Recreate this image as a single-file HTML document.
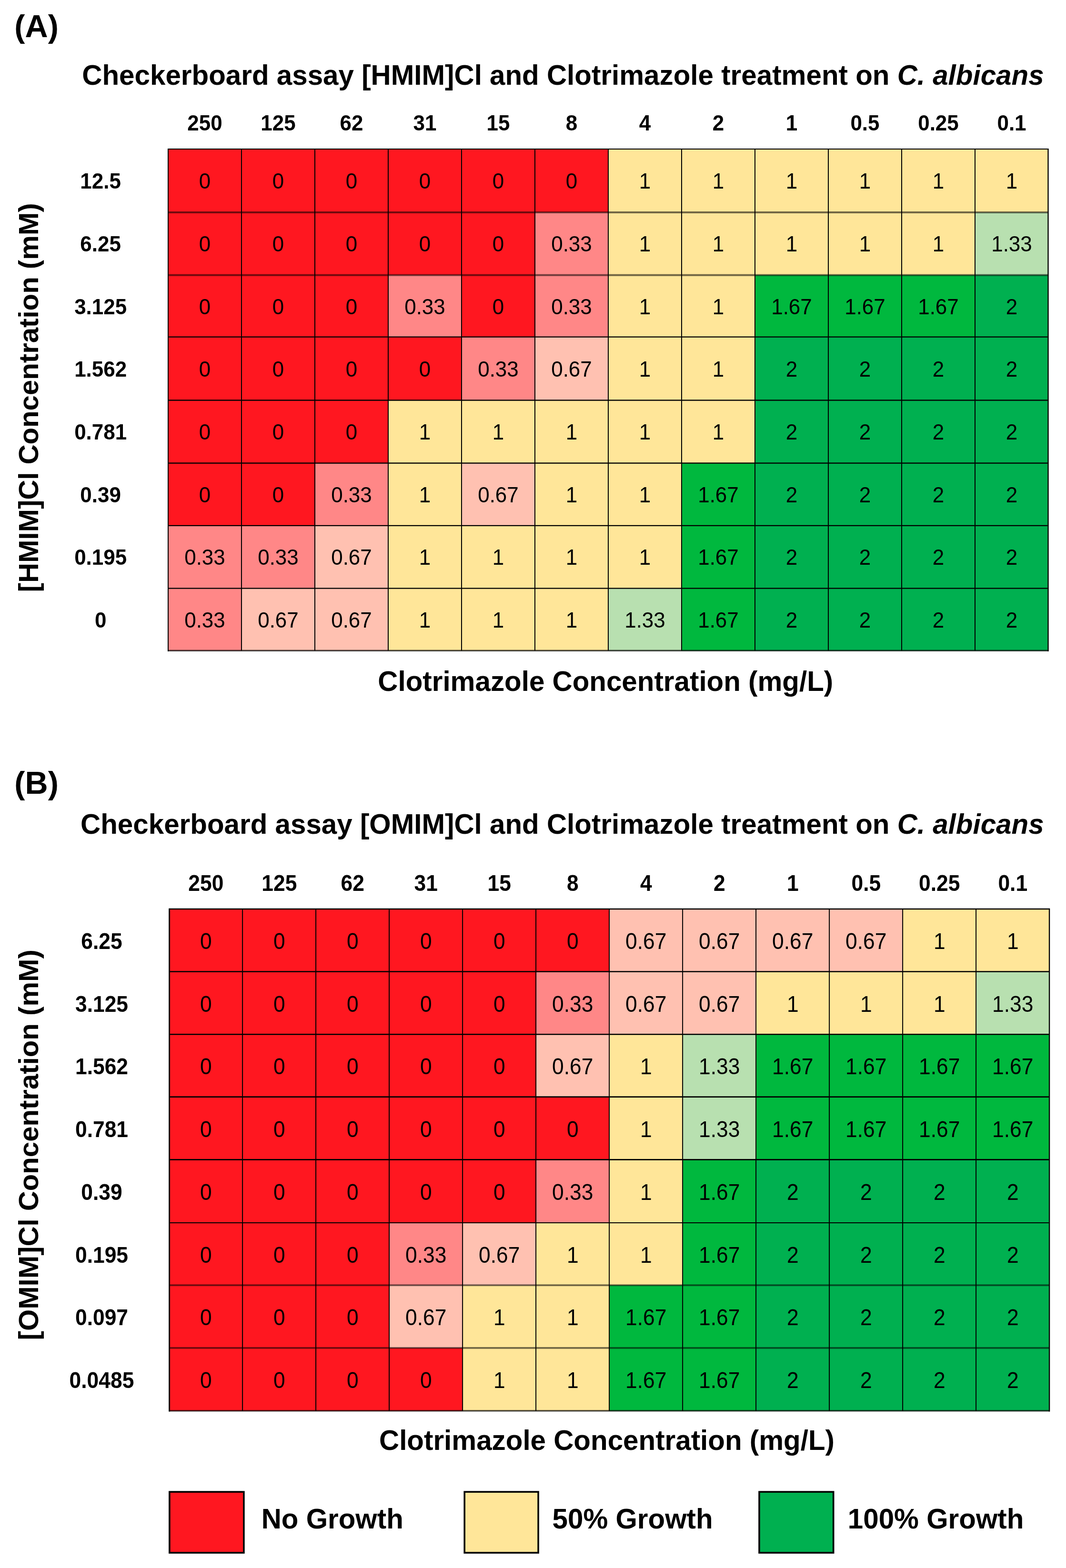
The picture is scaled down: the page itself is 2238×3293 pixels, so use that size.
<!DOCTYPE html>
<html lang="en">
<head>
<meta charset="utf-8">
<title>Checkerboard assay – ionic liquids and Clotrimazole on C. albicans</title>
<style>
html,body{margin:0;padding:0;background:#fff;}
body{width:2238px;height:3293px;position:relative;}
svg{display:block;position:absolute;left:0;top:0;}
text{font-family:"Liberation Sans", sans-serif;fill:#000;}
.p{font-size:66.67px;font-weight:bold;}
.t{font-size:58.33px;font-weight:bold;}
.h{font-size:44.0px;font-weight:bold;}
.v{font-size:44.0px;font-weight:normal;}
.h,.v{transform-box:fill-box;transform-origin:50% 81%;transform:scale(1,1.045);}
#grid-B .h,#grid-B .v{font-size:44.4px;transform:scale(1,1.07);}
.y{font-size:58.15px;font-weight:bold;}
.i{font-style:italic;}
</style>
</head>
<body>
<svg width="2238" height="3293" viewBox="0 0 2238 3293" role="img" aria-label="Checkerboard assays of [HMIM]Cl and [OMIM]Cl with Clotrimazole on C. albicans">
<rect width="2238" height="3293" fill="#fff"/>
<text class="p" x="30.3" y="78" text-anchor="start">(A)</text>
<text class="t" x="2191.6" y="177.8" text-anchor="end">Checkerboard assay [HMIM]Cl and Clotrimazole treatment on <tspan class="i">C. albicans</tspan></text>
<g class="grid" id="grid-A">
<g class="cells">
<rect x="353" y="313" width="154.4" height="133.4" fill="#ff1720"/>
<rect x="507" y="313" width="154.4" height="133.4" fill="#ff1720"/>
<rect x="661" y="313" width="154.4" height="133.4" fill="#ff1720"/>
<rect x="815" y="313" width="154.4" height="133.4" fill="#ff1720"/>
<rect x="969" y="313" width="154.4" height="133.4" fill="#ff1720"/>
<rect x="1123" y="313" width="154.4" height="133.4" fill="#ff1720"/>
<rect x="1277" y="313" width="154.4" height="133.4" fill="#ffe699"/>
<rect x="1431" y="313" width="154.4" height="133.4" fill="#ffe699"/>
<rect x="1585" y="313" width="154.4" height="133.4" fill="#ffe699"/>
<rect x="1739" y="313" width="154.4" height="133.4" fill="#ffe699"/>
<rect x="1893" y="313" width="154.4" height="133.4" fill="#ffe699"/>
<rect x="2047" y="313" width="153.9" height="133.4" fill="#ffe699"/>
<rect x="353" y="446" width="154.4" height="132.1" fill="#ff1720"/>
<rect x="507" y="446" width="154.4" height="132.1" fill="#ff1720"/>
<rect x="661" y="446" width="154.4" height="132.1" fill="#ff1720"/>
<rect x="815" y="446" width="154.4" height="132.1" fill="#ff1720"/>
<rect x="969" y="446" width="154.4" height="132.1" fill="#ff1720"/>
<rect x="1123" y="446" width="154.4" height="132.1" fill="#ff8787"/>
<rect x="1277" y="446" width="154.4" height="132.1" fill="#ffe699"/>
<rect x="1431" y="446" width="154.4" height="132.1" fill="#ffe699"/>
<rect x="1585" y="446" width="154.4" height="132.1" fill="#ffe699"/>
<rect x="1739" y="446" width="154.4" height="132.1" fill="#ffe699"/>
<rect x="1893" y="446" width="154.4" height="132.1" fill="#ffe699"/>
<rect x="2047" y="446" width="153.9" height="132.1" fill="#b8e0b0"/>
<rect x="353" y="577.7" width="154.4" height="130.3" fill="#ff1720"/>
<rect x="507" y="577.7" width="154.4" height="130.3" fill="#ff1720"/>
<rect x="661" y="577.7" width="154.4" height="130.3" fill="#ff1720"/>
<rect x="815" y="577.7" width="154.4" height="130.3" fill="#ff8787"/>
<rect x="969" y="577.7" width="154.4" height="130.3" fill="#ff1720"/>
<rect x="1123" y="577.7" width="154.4" height="130.3" fill="#ff8787"/>
<rect x="1277" y="577.7" width="154.4" height="130.3" fill="#ffe699"/>
<rect x="1431" y="577.7" width="154.4" height="130.3" fill="#ffe699"/>
<rect x="1585" y="577.7" width="154.4" height="130.3" fill="#00b83e"/>
<rect x="1739" y="577.7" width="154.4" height="130.3" fill="#00b83e"/>
<rect x="1893" y="577.7" width="154.4" height="130.3" fill="#00b83e"/>
<rect x="2047" y="577.7" width="153.9" height="130.3" fill="#00b050"/>
<rect x="353" y="707.6" width="154.4" height="133.4" fill="#ff1720"/>
<rect x="507" y="707.6" width="154.4" height="133.4" fill="#ff1720"/>
<rect x="661" y="707.6" width="154.4" height="133.4" fill="#ff1720"/>
<rect x="815" y="707.6" width="154.4" height="133.4" fill="#ff1720"/>
<rect x="969" y="707.6" width="154.4" height="133.4" fill="#ff8787"/>
<rect x="1123" y="707.6" width="154.4" height="133.4" fill="#ffc1b1"/>
<rect x="1277" y="707.6" width="154.4" height="133.4" fill="#ffe699"/>
<rect x="1431" y="707.6" width="154.4" height="133.4" fill="#ffe699"/>
<rect x="1585" y="707.6" width="154.4" height="133.4" fill="#00b050"/>
<rect x="1739" y="707.6" width="154.4" height="133.4" fill="#00b050"/>
<rect x="1893" y="707.6" width="154.4" height="133.4" fill="#00b050"/>
<rect x="2047" y="707.6" width="153.9" height="133.4" fill="#00b050"/>
<rect x="353" y="840.6" width="154.4" height="132.4" fill="#ff1720"/>
<rect x="507" y="840.6" width="154.4" height="132.4" fill="#ff1720"/>
<rect x="661" y="840.6" width="154.4" height="132.4" fill="#ff1720"/>
<rect x="815" y="840.6" width="154.4" height="132.4" fill="#ffe699"/>
<rect x="969" y="840.6" width="154.4" height="132.4" fill="#ffe699"/>
<rect x="1123" y="840.6" width="154.4" height="132.4" fill="#ffe699"/>
<rect x="1277" y="840.6" width="154.4" height="132.4" fill="#ffe699"/>
<rect x="1431" y="840.6" width="154.4" height="132.4" fill="#ffe699"/>
<rect x="1585" y="840.6" width="154.4" height="132.4" fill="#00b050"/>
<rect x="1739" y="840.6" width="154.4" height="132.4" fill="#00b050"/>
<rect x="1893" y="840.6" width="154.4" height="132.4" fill="#00b050"/>
<rect x="2047" y="840.6" width="153.9" height="132.4" fill="#00b050"/>
<rect x="353" y="972.6" width="154.4" height="131.6" fill="#ff1720"/>
<rect x="507" y="972.6" width="154.4" height="131.6" fill="#ff1720"/>
<rect x="661" y="972.6" width="154.4" height="131.6" fill="#ff8787"/>
<rect x="815" y="972.6" width="154.4" height="131.6" fill="#ffe699"/>
<rect x="969" y="972.6" width="154.4" height="131.6" fill="#ffc1b1"/>
<rect x="1123" y="972.6" width="154.4" height="131.6" fill="#ffe699"/>
<rect x="1277" y="972.6" width="154.4" height="131.6" fill="#ffe699"/>
<rect x="1431" y="972.6" width="154.4" height="131.6" fill="#00b83e"/>
<rect x="1585" y="972.6" width="154.4" height="131.6" fill="#00b050"/>
<rect x="1739" y="972.6" width="154.4" height="131.6" fill="#00b050"/>
<rect x="1893" y="972.6" width="154.4" height="131.6" fill="#00b050"/>
<rect x="2047" y="972.6" width="153.9" height="131.6" fill="#00b050"/>
<rect x="353" y="1103.8" width="154.4" height="132.2" fill="#ff8787"/>
<rect x="507" y="1103.8" width="154.4" height="132.2" fill="#ff8787"/>
<rect x="661" y="1103.8" width="154.4" height="132.2" fill="#ffc1b1"/>
<rect x="815" y="1103.8" width="154.4" height="132.2" fill="#ffe699"/>
<rect x="969" y="1103.8" width="154.4" height="132.2" fill="#ffe699"/>
<rect x="1123" y="1103.8" width="154.4" height="132.2" fill="#ffe699"/>
<rect x="1277" y="1103.8" width="154.4" height="132.2" fill="#ffe699"/>
<rect x="1431" y="1103.8" width="154.4" height="132.2" fill="#00b83e"/>
<rect x="1585" y="1103.8" width="154.4" height="132.2" fill="#00b050"/>
<rect x="1739" y="1103.8" width="154.4" height="132.2" fill="#00b050"/>
<rect x="1893" y="1103.8" width="154.4" height="132.2" fill="#00b050"/>
<rect x="2047" y="1103.8" width="153.9" height="132.2" fill="#00b050"/>
<rect x="353" y="1235.6" width="154.4" height="131.1" fill="#ff8787"/>
<rect x="507" y="1235.6" width="154.4" height="131.1" fill="#ffc1b1"/>
<rect x="661" y="1235.6" width="154.4" height="131.1" fill="#ffc1b1"/>
<rect x="815" y="1235.6" width="154.4" height="131.1" fill="#ffe699"/>
<rect x="969" y="1235.6" width="154.4" height="131.1" fill="#ffe699"/>
<rect x="1123" y="1235.6" width="154.4" height="131.1" fill="#ffe699"/>
<rect x="1277" y="1235.6" width="154.4" height="131.1" fill="#b8e0b0"/>
<rect x="1431" y="1235.6" width="154.4" height="131.1" fill="#00b83e"/>
<rect x="1585" y="1235.6" width="154.4" height="131.1" fill="#00b050"/>
<rect x="1739" y="1235.6" width="154.4" height="131.1" fill="#00b050"/>
<rect x="1893" y="1235.6" width="154.4" height="131.1" fill="#00b050"/>
<rect x="2047" y="1235.6" width="153.9" height="131.1" fill="#00b050"/>
</g>
<g class="lines" stroke="#000" fill="none">
<line x1="353" y1="312" x2="353" y2="1367.9" stroke-width="2.0"/>
<line x1="507" y1="313" x2="507" y2="1366.3" stroke-width="2.0"/>
<line x1="661" y1="313" x2="661" y2="1366.3" stroke-width="2.0"/>
<line x1="815" y1="313" x2="815" y2="1366.3" stroke-width="2.0"/>
<line x1="969" y1="313" x2="969" y2="1366.3" stroke-width="2.0"/>
<line x1="1123" y1="313" x2="1123" y2="1366.3" stroke-width="2.0"/>
<line x1="1277" y1="313" x2="1277" y2="1366.3" stroke-width="2.0"/>
<line x1="1431" y1="313" x2="1431" y2="1366.3" stroke-width="2.0"/>
<line x1="1585" y1="313" x2="1585" y2="1366.3" stroke-width="2.0"/>
<line x1="1739" y1="313" x2="1739" y2="1366.3" stroke-width="2.0"/>
<line x1="1893" y1="313" x2="1893" y2="1366.3" stroke-width="2.0"/>
<line x1="2047" y1="313" x2="2047" y2="1366.3" stroke-width="2.0"/>
<line x1="2200.5" y1="312" x2="2200.5" y2="1367.9" stroke-width="2.8" stroke-opacity="0.85"/>
<line x1="353" y1="313" x2="2200.5" y2="313" stroke-width="2.0"/>
<line x1="353" y1="446" x2="2200.5" y2="446" stroke-width="3.9" stroke-opacity="0.55"/>
<line x1="353" y1="577.7" x2="2200.5" y2="577.7" stroke-width="4.0" stroke-opacity="0.55"/>
<line x1="353" y1="707.6" x2="2200.5" y2="707.6" stroke-width="2.3"/>
<line x1="353" y1="840.6" x2="2200.5" y2="840.6" stroke-width="2.9" stroke-opacity="0.88"/>
<line x1="353" y1="972.6" x2="2200.5" y2="972.6" stroke-width="2.9" stroke-opacity="0.88"/>
<line x1="353" y1="1103.8" x2="2200.5" y2="1103.8" stroke-width="2.2"/>
<line x1="353" y1="1235.6" x2="2200.5" y2="1235.6" stroke-width="2.2"/>
<line x1="353" y1="1366.3" x2="2200.5" y2="1366.3" stroke-width="3.2" stroke-opacity="0.7"/>
</g>
<g class="vals">
<text class="v" x="430" y="396.2" text-anchor="middle">0</text>
<text class="v" x="584" y="396.2" text-anchor="middle">0</text>
<text class="v" x="738" y="396.2" text-anchor="middle">0</text>
<text class="v" x="892" y="396.2" text-anchor="middle">0</text>
<text class="v" x="1046" y="396.2" text-anchor="middle">0</text>
<text class="v" x="1200" y="396.2" text-anchor="middle">0</text>
<text class="v" x="1354" y="396.2" text-anchor="middle">1</text>
<text class="v" x="1508" y="396.2" text-anchor="middle">1</text>
<text class="v" x="1662" y="396.2" text-anchor="middle">1</text>
<text class="v" x="1816" y="396.2" text-anchor="middle">1</text>
<text class="v" x="1970" y="396.2" text-anchor="middle">1</text>
<text class="v" x="2124" y="396.2" text-anchor="middle">1</text>
<text class="v" x="430" y="527.9" text-anchor="middle">0</text>
<text class="v" x="584" y="527.9" text-anchor="middle">0</text>
<text class="v" x="738" y="527.9" text-anchor="middle">0</text>
<text class="v" x="892" y="527.9" text-anchor="middle">0</text>
<text class="v" x="1046" y="527.9" text-anchor="middle">0</text>
<text class="v" x="1200" y="527.9" text-anchor="middle">0.33</text>
<text class="v" x="1354" y="527.9" text-anchor="middle">1</text>
<text class="v" x="1508" y="527.9" text-anchor="middle">1</text>
<text class="v" x="1662" y="527.9" text-anchor="middle">1</text>
<text class="v" x="1816" y="527.9" text-anchor="middle">1</text>
<text class="v" x="1970" y="527.9" text-anchor="middle">1</text>
<text class="v" x="2124" y="527.9" text-anchor="middle">1.33</text>
<text class="v" x="430" y="659.6" text-anchor="middle">0</text>
<text class="v" x="584" y="659.6" text-anchor="middle">0</text>
<text class="v" x="738" y="659.6" text-anchor="middle">0</text>
<text class="v" x="892" y="659.6" text-anchor="middle">0.33</text>
<text class="v" x="1046" y="659.6" text-anchor="middle">0</text>
<text class="v" x="1200" y="659.6" text-anchor="middle">0.33</text>
<text class="v" x="1354" y="659.6" text-anchor="middle">1</text>
<text class="v" x="1508" y="659.6" text-anchor="middle">1</text>
<text class="v" x="1662" y="659.6" text-anchor="middle">1.67</text>
<text class="v" x="1816" y="659.6" text-anchor="middle">1.67</text>
<text class="v" x="1970" y="659.6" text-anchor="middle">1.67</text>
<text class="v" x="2124" y="659.6" text-anchor="middle">2</text>
<text class="v" x="430" y="791.3" text-anchor="middle">0</text>
<text class="v" x="584" y="791.3" text-anchor="middle">0</text>
<text class="v" x="738" y="791.3" text-anchor="middle">0</text>
<text class="v" x="892" y="791.3" text-anchor="middle">0</text>
<text class="v" x="1046" y="791.3" text-anchor="middle">0.33</text>
<text class="v" x="1200" y="791.3" text-anchor="middle">0.67</text>
<text class="v" x="1354" y="791.3" text-anchor="middle">1</text>
<text class="v" x="1508" y="791.3" text-anchor="middle">1</text>
<text class="v" x="1662" y="791.3" text-anchor="middle">2</text>
<text class="v" x="1816" y="791.3" text-anchor="middle">2</text>
<text class="v" x="1970" y="791.3" text-anchor="middle">2</text>
<text class="v" x="2124" y="791.3" text-anchor="middle">2</text>
<text class="v" x="430" y="923" text-anchor="middle">0</text>
<text class="v" x="584" y="923" text-anchor="middle">0</text>
<text class="v" x="738" y="923" text-anchor="middle">0</text>
<text class="v" x="892" y="923" text-anchor="middle">1</text>
<text class="v" x="1046" y="923" text-anchor="middle">1</text>
<text class="v" x="1200" y="923" text-anchor="middle">1</text>
<text class="v" x="1354" y="923" text-anchor="middle">1</text>
<text class="v" x="1508" y="923" text-anchor="middle">1</text>
<text class="v" x="1662" y="923" text-anchor="middle">2</text>
<text class="v" x="1816" y="923" text-anchor="middle">2</text>
<text class="v" x="1970" y="923" text-anchor="middle">2</text>
<text class="v" x="2124" y="923" text-anchor="middle">2</text>
<text class="v" x="430" y="1054.7" text-anchor="middle">0</text>
<text class="v" x="584" y="1054.7" text-anchor="middle">0</text>
<text class="v" x="738" y="1054.7" text-anchor="middle">0.33</text>
<text class="v" x="892" y="1054.7" text-anchor="middle">1</text>
<text class="v" x="1046" y="1054.7" text-anchor="middle">0.67</text>
<text class="v" x="1200" y="1054.7" text-anchor="middle">1</text>
<text class="v" x="1354" y="1054.7" text-anchor="middle">1</text>
<text class="v" x="1508" y="1054.7" text-anchor="middle">1.67</text>
<text class="v" x="1662" y="1054.7" text-anchor="middle">2</text>
<text class="v" x="1816" y="1054.7" text-anchor="middle">2</text>
<text class="v" x="1970" y="1054.7" text-anchor="middle">2</text>
<text class="v" x="2124" y="1054.7" text-anchor="middle">2</text>
<text class="v" x="430" y="1186.4" text-anchor="middle">0.33</text>
<text class="v" x="584" y="1186.4" text-anchor="middle">0.33</text>
<text class="v" x="738" y="1186.4" text-anchor="middle">0.67</text>
<text class="v" x="892" y="1186.4" text-anchor="middle">1</text>
<text class="v" x="1046" y="1186.4" text-anchor="middle">1</text>
<text class="v" x="1200" y="1186.4" text-anchor="middle">1</text>
<text class="v" x="1354" y="1186.4" text-anchor="middle">1</text>
<text class="v" x="1508" y="1186.4" text-anchor="middle">1.67</text>
<text class="v" x="1662" y="1186.4" text-anchor="middle">2</text>
<text class="v" x="1816" y="1186.4" text-anchor="middle">2</text>
<text class="v" x="1970" y="1186.4" text-anchor="middle">2</text>
<text class="v" x="2124" y="1186.4" text-anchor="middle">2</text>
<text class="v" x="430" y="1318.1" text-anchor="middle">0.33</text>
<text class="v" x="584" y="1318.1" text-anchor="middle">0.67</text>
<text class="v" x="738" y="1318.1" text-anchor="middle">0.67</text>
<text class="v" x="892" y="1318.1" text-anchor="middle">1</text>
<text class="v" x="1046" y="1318.1" text-anchor="middle">1</text>
<text class="v" x="1200" y="1318.1" text-anchor="middle">1</text>
<text class="v" x="1354" y="1318.1" text-anchor="middle">1.33</text>
<text class="v" x="1508" y="1318.1" text-anchor="middle">1.67</text>
<text class="v" x="1662" y="1318.1" text-anchor="middle">2</text>
<text class="v" x="1816" y="1318.1" text-anchor="middle">2</text>
<text class="v" x="1970" y="1318.1" text-anchor="middle">2</text>
<text class="v" x="2124" y="1318.1" text-anchor="middle">2</text>
</g>
<g class="colhdr">
<text class="h" x="430" y="274" text-anchor="middle">250</text>
<text class="h" x="584" y="274" text-anchor="middle">125</text>
<text class="h" x="738" y="274" text-anchor="middle">62</text>
<text class="h" x="892" y="274" text-anchor="middle">31</text>
<text class="h" x="1046" y="274" text-anchor="middle">15</text>
<text class="h" x="1200" y="274" text-anchor="middle">8</text>
<text class="h" x="1354" y="274" text-anchor="middle">4</text>
<text class="h" x="1508" y="274" text-anchor="middle">2</text>
<text class="h" x="1662" y="274" text-anchor="middle">1</text>
<text class="h" x="1816" y="274" text-anchor="middle">0.5</text>
<text class="h" x="1970" y="274" text-anchor="middle">0.25</text>
<text class="h" x="2124" y="274" text-anchor="middle">0.1</text>
</g>
<g class="rowhdr">
<text class="h" x="211.2" y="396.2" text-anchor="middle">12.5</text>
<text class="h" x="211.2" y="527.9" text-anchor="middle">6.25</text>
<text class="h" x="211.2" y="659.6" text-anchor="middle">3.125</text>
<text class="h" x="211.2" y="791.3" text-anchor="middle">1.562</text>
<text class="h" x="211.2" y="923" text-anchor="middle">0.781</text>
<text class="h" x="211.2" y="1054.7" text-anchor="middle">0.39</text>
<text class="h" x="211.2" y="1186.4" text-anchor="middle">0.195</text>
<text class="h" x="211.2" y="1318.1" text-anchor="middle">0</text>
</g>
</g>
<text class="t" x="1271.3" y="1450.9" text-anchor="middle">Clotrimazole Concentration (mg/L)</text>
<text class="y" x="0" y="0" text-anchor="middle" transform="translate(80.3 834.9) rotate(-90)">[HMIM]Cl Concentration (mM)</text>
<text class="p" x="30.3" y="1667.4" text-anchor="start">(B)</text>
<text class="t" x="2191.6" y="1751" text-anchor="end">Checkerboard assay [OMIM]Cl and Clotrimazole treatment on <tspan class="i">C. albicans</tspan></text>
<g class="grid" id="grid-B">
<g class="cells">
<rect x="355.6" y="1909" width="153.9" height="131.9" fill="#ff1720"/>
<rect x="509.1" y="1909" width="154.4" height="131.9" fill="#ff1720"/>
<rect x="663.1" y="1909" width="154.4" height="131.9" fill="#ff1720"/>
<rect x="817.1" y="1909" width="154.4" height="131.9" fill="#ff1720"/>
<rect x="971.1" y="1909" width="154.4" height="131.9" fill="#ff1720"/>
<rect x="1125.1" y="1909" width="154.4" height="131.9" fill="#ff1720"/>
<rect x="1279.1" y="1909" width="154.4" height="131.9" fill="#ffc1b1"/>
<rect x="1433.1" y="1909" width="154.4" height="131.9" fill="#ffc1b1"/>
<rect x="1587.1" y="1909" width="154.4" height="131.9" fill="#ffc1b1"/>
<rect x="1741.1" y="1909" width="154.4" height="131.9" fill="#ffc1b1"/>
<rect x="1895.1" y="1909" width="154.4" height="131.9" fill="#ffe699"/>
<rect x="2049.1" y="1909" width="154.4" height="131.9" fill="#ffe699"/>
<rect x="355.6" y="2040.5" width="153.9" height="132.2" fill="#ff1720"/>
<rect x="509.1" y="2040.5" width="154.4" height="132.2" fill="#ff1720"/>
<rect x="663.1" y="2040.5" width="154.4" height="132.2" fill="#ff1720"/>
<rect x="817.1" y="2040.5" width="154.4" height="132.2" fill="#ff1720"/>
<rect x="971.1" y="2040.5" width="154.4" height="132.2" fill="#ff1720"/>
<rect x="1125.1" y="2040.5" width="154.4" height="132.2" fill="#ff8787"/>
<rect x="1279.1" y="2040.5" width="154.4" height="132.2" fill="#ffc1b1"/>
<rect x="1433.1" y="2040.5" width="154.4" height="132.2" fill="#ffc1b1"/>
<rect x="1587.1" y="2040.5" width="154.4" height="132.2" fill="#ffe699"/>
<rect x="1741.1" y="2040.5" width="154.4" height="132.2" fill="#ffe699"/>
<rect x="1895.1" y="2040.5" width="154.4" height="132.2" fill="#ffe699"/>
<rect x="2049.1" y="2040.5" width="154.4" height="132.2" fill="#b8e0b0"/>
<rect x="355.6" y="2172.3" width="153.9" height="131.7" fill="#ff1720"/>
<rect x="509.1" y="2172.3" width="154.4" height="131.7" fill="#ff1720"/>
<rect x="663.1" y="2172.3" width="154.4" height="131.7" fill="#ff1720"/>
<rect x="817.1" y="2172.3" width="154.4" height="131.7" fill="#ff1720"/>
<rect x="971.1" y="2172.3" width="154.4" height="131.7" fill="#ff1720"/>
<rect x="1125.1" y="2172.3" width="154.4" height="131.7" fill="#ffc1b1"/>
<rect x="1279.1" y="2172.3" width="154.4" height="131.7" fill="#ffe699"/>
<rect x="1433.1" y="2172.3" width="154.4" height="131.7" fill="#b8e0b0"/>
<rect x="1587.1" y="2172.3" width="154.4" height="131.7" fill="#00b83e"/>
<rect x="1741.1" y="2172.3" width="154.4" height="131.7" fill="#00b83e"/>
<rect x="1895.1" y="2172.3" width="154.4" height="131.7" fill="#00b83e"/>
<rect x="2049.1" y="2172.3" width="154.4" height="131.7" fill="#00b83e"/>
<rect x="355.6" y="2303.6" width="153.9" height="132.2" fill="#ff1720"/>
<rect x="509.1" y="2303.6" width="154.4" height="132.2" fill="#ff1720"/>
<rect x="663.1" y="2303.6" width="154.4" height="132.2" fill="#ff1720"/>
<rect x="817.1" y="2303.6" width="154.4" height="132.2" fill="#ff1720"/>
<rect x="971.1" y="2303.6" width="154.4" height="132.2" fill="#ff1720"/>
<rect x="1125.1" y="2303.6" width="154.4" height="132.2" fill="#ff1720"/>
<rect x="1279.1" y="2303.6" width="154.4" height="132.2" fill="#ffe699"/>
<rect x="1433.1" y="2303.6" width="154.4" height="132.2" fill="#b8e0b0"/>
<rect x="1587.1" y="2303.6" width="154.4" height="132.2" fill="#00b83e"/>
<rect x="1741.1" y="2303.6" width="154.4" height="132.2" fill="#00b83e"/>
<rect x="1895.1" y="2303.6" width="154.4" height="132.2" fill="#00b83e"/>
<rect x="2049.1" y="2303.6" width="154.4" height="132.2" fill="#00b83e"/>
<rect x="355.6" y="2435.4" width="153.9" height="133" fill="#ff1720"/>
<rect x="509.1" y="2435.4" width="154.4" height="133" fill="#ff1720"/>
<rect x="663.1" y="2435.4" width="154.4" height="133" fill="#ff1720"/>
<rect x="817.1" y="2435.4" width="154.4" height="133" fill="#ff1720"/>
<rect x="971.1" y="2435.4" width="154.4" height="133" fill="#ff1720"/>
<rect x="1125.1" y="2435.4" width="154.4" height="133" fill="#ff8787"/>
<rect x="1279.1" y="2435.4" width="154.4" height="133" fill="#ffe699"/>
<rect x="1433.1" y="2435.4" width="154.4" height="133" fill="#00b83e"/>
<rect x="1587.1" y="2435.4" width="154.4" height="133" fill="#00b050"/>
<rect x="1741.1" y="2435.4" width="154.4" height="133" fill="#00b050"/>
<rect x="1895.1" y="2435.4" width="154.4" height="133" fill="#00b050"/>
<rect x="2049.1" y="2435.4" width="154.4" height="133" fill="#00b050"/>
<rect x="355.6" y="2568" width="153.9" height="131.5" fill="#ff1720"/>
<rect x="509.1" y="2568" width="154.4" height="131.5" fill="#ff1720"/>
<rect x="663.1" y="2568" width="154.4" height="131.5" fill="#ff1720"/>
<rect x="817.1" y="2568" width="154.4" height="131.5" fill="#ff8787"/>
<rect x="971.1" y="2568" width="154.4" height="131.5" fill="#ffc1b1"/>
<rect x="1125.1" y="2568" width="154.4" height="131.5" fill="#ffe699"/>
<rect x="1279.1" y="2568" width="154.4" height="131.5" fill="#ffe699"/>
<rect x="1433.1" y="2568" width="154.4" height="131.5" fill="#00b83e"/>
<rect x="1587.1" y="2568" width="154.4" height="131.5" fill="#00b050"/>
<rect x="1741.1" y="2568" width="154.4" height="131.5" fill="#00b050"/>
<rect x="1895.1" y="2568" width="154.4" height="131.5" fill="#00b050"/>
<rect x="2049.1" y="2568" width="154.4" height="131.5" fill="#00b050"/>
<rect x="355.6" y="2699.1" width="153.9" height="132.2" fill="#ff1720"/>
<rect x="509.1" y="2699.1" width="154.4" height="132.2" fill="#ff1720"/>
<rect x="663.1" y="2699.1" width="154.4" height="132.2" fill="#ff1720"/>
<rect x="817.1" y="2699.1" width="154.4" height="132.2" fill="#ffc1b1"/>
<rect x="971.1" y="2699.1" width="154.4" height="132.2" fill="#ffe699"/>
<rect x="1125.1" y="2699.1" width="154.4" height="132.2" fill="#ffe699"/>
<rect x="1279.1" y="2699.1" width="154.4" height="132.2" fill="#00b83e"/>
<rect x="1433.1" y="2699.1" width="154.4" height="132.2" fill="#00b83e"/>
<rect x="1587.1" y="2699.1" width="154.4" height="132.2" fill="#00b050"/>
<rect x="1741.1" y="2699.1" width="154.4" height="132.2" fill="#00b050"/>
<rect x="1895.1" y="2699.1" width="154.4" height="132.2" fill="#00b050"/>
<rect x="2049.1" y="2699.1" width="154.4" height="132.2" fill="#00b050"/>
<rect x="355.6" y="2830.9" width="153.9" height="132.4" fill="#ff1720"/>
<rect x="509.1" y="2830.9" width="154.4" height="132.4" fill="#ff1720"/>
<rect x="663.1" y="2830.9" width="154.4" height="132.4" fill="#ff1720"/>
<rect x="817.1" y="2830.9" width="154.4" height="132.4" fill="#ff1720"/>
<rect x="971.1" y="2830.9" width="154.4" height="132.4" fill="#ffe699"/>
<rect x="1125.1" y="2830.9" width="154.4" height="132.4" fill="#ffe699"/>
<rect x="1279.1" y="2830.9" width="154.4" height="132.4" fill="#00b83e"/>
<rect x="1433.1" y="2830.9" width="154.4" height="132.4" fill="#00b83e"/>
<rect x="1587.1" y="2830.9" width="154.4" height="132.4" fill="#00b050"/>
<rect x="1741.1" y="2830.9" width="154.4" height="132.4" fill="#00b050"/>
<rect x="1895.1" y="2830.9" width="154.4" height="132.4" fill="#00b050"/>
<rect x="2049.1" y="2830.9" width="154.4" height="132.4" fill="#00b050"/>
</g>
<g class="lines" stroke="#000" fill="none">
<line x1="355.6" y1="1907.65" x2="355.6" y2="2964.6" stroke-width="3.0" stroke-opacity="0.9"/>
<line x1="509.1" y1="1909" x2="509.1" y2="2962.9" stroke-width="2.0"/>
<line x1="663.1" y1="1909" x2="663.1" y2="2962.9" stroke-width="2.0"/>
<line x1="817.1" y1="1909" x2="817.1" y2="2962.9" stroke-width="2.0"/>
<line x1="971.1" y1="1909" x2="971.1" y2="2962.9" stroke-width="2.0"/>
<line x1="1125.1" y1="1909" x2="1125.1" y2="2962.9" stroke-width="2.0"/>
<line x1="1279.1" y1="1909" x2="1279.1" y2="2962.9" stroke-width="2.0"/>
<line x1="1433.1" y1="1909" x2="1433.1" y2="2962.9" stroke-width="2.0"/>
<line x1="1587.1" y1="1909" x2="1587.1" y2="2962.9" stroke-width="2.0"/>
<line x1="1741.1" y1="1909" x2="1741.1" y2="2962.9" stroke-width="2.0"/>
<line x1="1895.1" y1="1909" x2="1895.1" y2="2962.9" stroke-width="2.0"/>
<line x1="2049.1" y1="1909" x2="2049.1" y2="2962.9" stroke-width="2.0"/>
<line x1="2203.1" y1="1907.65" x2="2203.1" y2="2964.6" stroke-width="2.4"/>
<line x1="355.6" y1="1909" x2="2203.1" y2="1909" stroke-width="2.7"/>
<line x1="355.6" y1="2040.5" x2="2203.1" y2="2040.5" stroke-width="2.3"/>
<line x1="355.6" y1="2172.3" x2="2203.1" y2="2172.3" stroke-width="2.4"/>
<line x1="355.6" y1="2303.6" x2="2203.1" y2="2303.6" stroke-width="2.6"/>
<line x1="355.6" y1="2435.4" x2="2203.1" y2="2435.4" stroke-width="2.6"/>
<line x1="355.6" y1="2568" x2="2203.1" y2="2568" stroke-width="2.2"/>
<line x1="355.6" y1="2699.1" x2="2203.1" y2="2699.1" stroke-width="3.7" stroke-opacity="0.55"/>
<line x1="355.6" y1="2830.9" x2="2203.1" y2="2830.9" stroke-width="3.8" stroke-opacity="0.55"/>
<line x1="355.6" y1="2962.9" x2="2203.1" y2="2962.9" stroke-width="3.4" stroke-opacity="0.7"/>
</g>
<g class="vals">
<text class="v" x="432.3" y="1992.9" text-anchor="middle">0</text>
<text class="v" x="586.3" y="1992.9" text-anchor="middle">0</text>
<text class="v" x="740.3" y="1992.9" text-anchor="middle">0</text>
<text class="v" x="894.3" y="1992.9" text-anchor="middle">0</text>
<text class="v" x="1048.3" y="1992.9" text-anchor="middle">0</text>
<text class="v" x="1202.3" y="1992.9" text-anchor="middle">0</text>
<text class="v" x="1356.3" y="1992.9" text-anchor="middle">0.67</text>
<text class="v" x="1510.3" y="1992.9" text-anchor="middle">0.67</text>
<text class="v" x="1664.3" y="1992.9" text-anchor="middle">0.67</text>
<text class="v" x="1818.3" y="1992.9" text-anchor="middle">0.67</text>
<text class="v" x="1972.3" y="1992.9" text-anchor="middle">1</text>
<text class="v" x="2126.3" y="1992.9" text-anchor="middle">1</text>
<text class="v" x="432.3" y="2124.65" text-anchor="middle">0</text>
<text class="v" x="586.3" y="2124.65" text-anchor="middle">0</text>
<text class="v" x="740.3" y="2124.65" text-anchor="middle">0</text>
<text class="v" x="894.3" y="2124.65" text-anchor="middle">0</text>
<text class="v" x="1048.3" y="2124.65" text-anchor="middle">0</text>
<text class="v" x="1202.3" y="2124.65" text-anchor="middle">0.33</text>
<text class="v" x="1356.3" y="2124.65" text-anchor="middle">0.67</text>
<text class="v" x="1510.3" y="2124.65" text-anchor="middle">0.67</text>
<text class="v" x="1664.3" y="2124.65" text-anchor="middle">1</text>
<text class="v" x="1818.3" y="2124.65" text-anchor="middle">1</text>
<text class="v" x="1972.3" y="2124.65" text-anchor="middle">1</text>
<text class="v" x="2126.3" y="2124.65" text-anchor="middle">1.33</text>
<text class="v" x="432.3" y="2256.4" text-anchor="middle">0</text>
<text class="v" x="586.3" y="2256.4" text-anchor="middle">0</text>
<text class="v" x="740.3" y="2256.4" text-anchor="middle">0</text>
<text class="v" x="894.3" y="2256.4" text-anchor="middle">0</text>
<text class="v" x="1048.3" y="2256.4" text-anchor="middle">0</text>
<text class="v" x="1202.3" y="2256.4" text-anchor="middle">0.67</text>
<text class="v" x="1356.3" y="2256.4" text-anchor="middle">1</text>
<text class="v" x="1510.3" y="2256.4" text-anchor="middle">1.33</text>
<text class="v" x="1664.3" y="2256.4" text-anchor="middle">1.67</text>
<text class="v" x="1818.3" y="2256.4" text-anchor="middle">1.67</text>
<text class="v" x="1972.3" y="2256.4" text-anchor="middle">1.67</text>
<text class="v" x="2126.3" y="2256.4" text-anchor="middle">1.67</text>
<text class="v" x="432.3" y="2388.15" text-anchor="middle">0</text>
<text class="v" x="586.3" y="2388.15" text-anchor="middle">0</text>
<text class="v" x="740.3" y="2388.15" text-anchor="middle">0</text>
<text class="v" x="894.3" y="2388.15" text-anchor="middle">0</text>
<text class="v" x="1048.3" y="2388.15" text-anchor="middle">0</text>
<text class="v" x="1202.3" y="2388.15" text-anchor="middle">0</text>
<text class="v" x="1356.3" y="2388.15" text-anchor="middle">1</text>
<text class="v" x="1510.3" y="2388.15" text-anchor="middle">1.33</text>
<text class="v" x="1664.3" y="2388.15" text-anchor="middle">1.67</text>
<text class="v" x="1818.3" y="2388.15" text-anchor="middle">1.67</text>
<text class="v" x="1972.3" y="2388.15" text-anchor="middle">1.67</text>
<text class="v" x="2126.3" y="2388.15" text-anchor="middle">1.67</text>
<text class="v" x="432.3" y="2519.9" text-anchor="middle">0</text>
<text class="v" x="586.3" y="2519.9" text-anchor="middle">0</text>
<text class="v" x="740.3" y="2519.9" text-anchor="middle">0</text>
<text class="v" x="894.3" y="2519.9" text-anchor="middle">0</text>
<text class="v" x="1048.3" y="2519.9" text-anchor="middle">0</text>
<text class="v" x="1202.3" y="2519.9" text-anchor="middle">0.33</text>
<text class="v" x="1356.3" y="2519.9" text-anchor="middle">1</text>
<text class="v" x="1510.3" y="2519.9" text-anchor="middle">1.67</text>
<text class="v" x="1664.3" y="2519.9" text-anchor="middle">2</text>
<text class="v" x="1818.3" y="2519.9" text-anchor="middle">2</text>
<text class="v" x="1972.3" y="2519.9" text-anchor="middle">2</text>
<text class="v" x="2126.3" y="2519.9" text-anchor="middle">2</text>
<text class="v" x="432.3" y="2651.65" text-anchor="middle">0</text>
<text class="v" x="586.3" y="2651.65" text-anchor="middle">0</text>
<text class="v" x="740.3" y="2651.65" text-anchor="middle">0</text>
<text class="v" x="894.3" y="2651.65" text-anchor="middle">0.33</text>
<text class="v" x="1048.3" y="2651.65" text-anchor="middle">0.67</text>
<text class="v" x="1202.3" y="2651.65" text-anchor="middle">1</text>
<text class="v" x="1356.3" y="2651.65" text-anchor="middle">1</text>
<text class="v" x="1510.3" y="2651.65" text-anchor="middle">1.67</text>
<text class="v" x="1664.3" y="2651.65" text-anchor="middle">2</text>
<text class="v" x="1818.3" y="2651.65" text-anchor="middle">2</text>
<text class="v" x="1972.3" y="2651.65" text-anchor="middle">2</text>
<text class="v" x="2126.3" y="2651.65" text-anchor="middle">2</text>
<text class="v" x="432.3" y="2783.4" text-anchor="middle">0</text>
<text class="v" x="586.3" y="2783.4" text-anchor="middle">0</text>
<text class="v" x="740.3" y="2783.4" text-anchor="middle">0</text>
<text class="v" x="894.3" y="2783.4" text-anchor="middle">0.67</text>
<text class="v" x="1048.3" y="2783.4" text-anchor="middle">1</text>
<text class="v" x="1202.3" y="2783.4" text-anchor="middle">1</text>
<text class="v" x="1356.3" y="2783.4" text-anchor="middle">1.67</text>
<text class="v" x="1510.3" y="2783.4" text-anchor="middle">1.67</text>
<text class="v" x="1664.3" y="2783.4" text-anchor="middle">2</text>
<text class="v" x="1818.3" y="2783.4" text-anchor="middle">2</text>
<text class="v" x="1972.3" y="2783.4" text-anchor="middle">2</text>
<text class="v" x="2126.3" y="2783.4" text-anchor="middle">2</text>
<text class="v" x="432.3" y="2915.15" text-anchor="middle">0</text>
<text class="v" x="586.3" y="2915.15" text-anchor="middle">0</text>
<text class="v" x="740.3" y="2915.15" text-anchor="middle">0</text>
<text class="v" x="894.3" y="2915.15" text-anchor="middle">0</text>
<text class="v" x="1048.3" y="2915.15" text-anchor="middle">1</text>
<text class="v" x="1202.3" y="2915.15" text-anchor="middle">1</text>
<text class="v" x="1356.3" y="2915.15" text-anchor="middle">1.67</text>
<text class="v" x="1510.3" y="2915.15" text-anchor="middle">1.67</text>
<text class="v" x="1664.3" y="2915.15" text-anchor="middle">2</text>
<text class="v" x="1818.3" y="2915.15" text-anchor="middle">2</text>
<text class="v" x="1972.3" y="2915.15" text-anchor="middle">2</text>
<text class="v" x="2126.3" y="2915.15" text-anchor="middle">2</text>
</g>
<g class="colhdr">
<text class="h" x="432.3" y="1871.3" text-anchor="middle">250</text>
<text class="h" x="586.3" y="1871.3" text-anchor="middle">125</text>
<text class="h" x="740.3" y="1871.3" text-anchor="middle">62</text>
<text class="h" x="894.3" y="1871.3" text-anchor="middle">31</text>
<text class="h" x="1048.3" y="1871.3" text-anchor="middle">15</text>
<text class="h" x="1202.3" y="1871.3" text-anchor="middle">8</text>
<text class="h" x="1356.3" y="1871.3" text-anchor="middle">4</text>
<text class="h" x="1510.3" y="1871.3" text-anchor="middle">2</text>
<text class="h" x="1664.3" y="1871.3" text-anchor="middle">1</text>
<text class="h" x="1818.3" y="1871.3" text-anchor="middle">0.5</text>
<text class="h" x="1972.3" y="1871.3" text-anchor="middle">0.25</text>
<text class="h" x="2126.3" y="1871.3" text-anchor="middle">0.1</text>
</g>
<g class="rowhdr">
<text class="h" x="213.5" y="1992.9" text-anchor="middle">6.25</text>
<text class="h" x="213.5" y="2124.65" text-anchor="middle">3.125</text>
<text class="h" x="213.5" y="2256.4" text-anchor="middle">1.562</text>
<text class="h" x="213.5" y="2388.15" text-anchor="middle">0.781</text>
<text class="h" x="213.5" y="2519.9" text-anchor="middle">0.39</text>
<text class="h" x="213.5" y="2651.65" text-anchor="middle">0.195</text>
<text class="h" x="213.5" y="2783.4" text-anchor="middle">0.097</text>
<text class="h" x="213.5" y="2915.15" text-anchor="middle">0.0485</text>
</g>
</g>
<text class="t" x="1274" y="3044.7" text-anchor="middle">Clotrimazole Concentration (mg/L)</text>
<text class="y" x="0" y="0" text-anchor="middle" transform="translate(80.3 2404.3) rotate(-90)">[OMIM]Cl Concentration (mM)</text>
<g class="legend">
<rect x="355.9" y="3133.1" width="156" height="127.9" fill="#ff1720" stroke="#000" stroke-width="3.6"/>
<text class="t" x="548.7" y="3210" text-anchor="start">No Growth</text>
<rect x="975.2" y="3133.1" width="154.9" height="127.9" fill="#ffe699" stroke="#000" stroke-width="3.6"/>
<text class="t" x="1159.5" y="3210" text-anchor="start">50% Growth</text>
<rect x="1594" y="3133.1" width="155.7" height="127.9" fill="#00b050" stroke="#000" stroke-width="3.6"/>
<text class="t" x="1779.8" y="3210" text-anchor="start">100% Growth</text>
</g>
</svg>
</body>
</html>
